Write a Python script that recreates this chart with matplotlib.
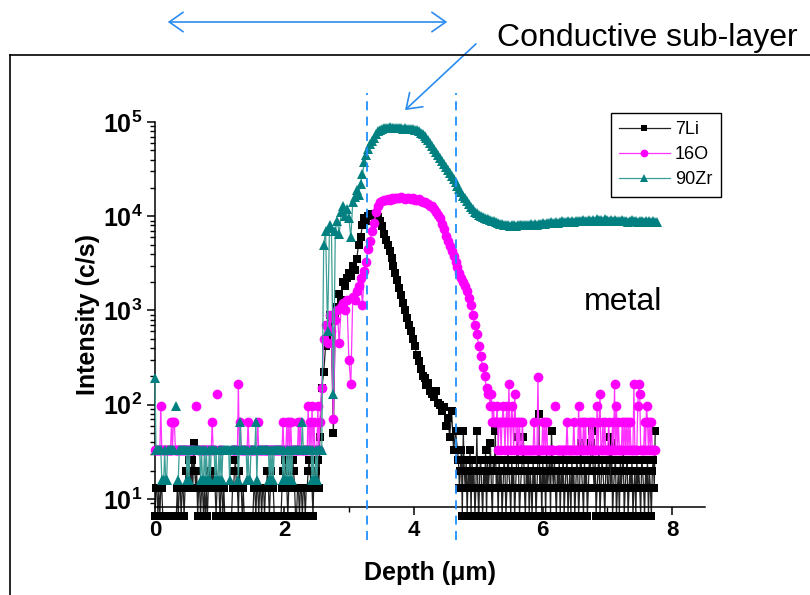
import matplotlib
matplotlib.use('Agg')
import matplotlib.pyplot as plt
import numpy as np
from matplotlib.patches import FancyArrowPatch
from matplotlib.lines import Line2D
from matplotlib.ticker import FixedLocator, FuncFormatter, LogLocator, NullFormatter

plt.rcParams['font.family'] = ['Liberation Sans', 'DejaVu Sans']
plt.rcParams['mathtext.fontset'] = 'custom'
plt.rcParams['mathtext.rm'] = 'Liberation Sans'
plt.rcParams['mathtext.bf'] = 'Liberation Sans:bold'

nan = np.nan

# ---- depth grids (um) -------------------------------------------------
FINE = 0.015     # sampling in the background (noise) regions
COARSE = 0.03    # sampling through the layer
depth_left = np.arange(171) * FINE                 # 0 .. 2.55
depth_li_mid = 2.58 + np.arange(70) * COARSE       # 2.58 .. 4.65
depth_li_right = 4.68 + np.arange(205) * FINE      # 4.68 .. 7.74
depth_o_mid = 2.58 + np.arange(87) * COARSE        # 2.58 .. 5.16
depth_o_right = 5.19 + np.arange(171) * FINE       # 5.19 .. 7.74
depth_zr_rest = 2.58 + np.arange(174) * COARSE     # 2.58 .. 7.77

# ---- 7Li intensity (c/s) ----------------------------------------------
li_left = [
    6.6, 13, 13, 6.6, 13, 6.6, 13, 13, 6.6, 6.6, 6.6, 6.6, 6.6, 6.6, 6.6, 6.6, 6.6, 6.6, 6.6, 6.6,
    6.6, 6.6, 6.6, 13, 6.6, 13, 13, 6.6, 13, 13, 6.6, 13, 20, 13, 20, 26, 20, 13, 26, 13,
    39, 20, 13, 20, 6.6, 13, 13, 6.6, 13, 13, 6.6, 13, 6.6, 13, 6.6, 13, 20, 13, 20, 13,
    20, 13, 13, 6.6, 13, 13, 13, 6.6, 13, 13, 6.6, 13, 6.6, 6.6, 6.6, 6.6, 6.6, 6.6, 6.6, 6.6,
    13, 13, 20, 26, 13, 13, 6.6, 20, 13, 13, 6.6, 13, 6.6, 6.6, 6.6, 6.6, 6.6, 6.6, 6.6, 6.6,
    6.6, 6.6, 13, 13, 6.6, 13, 13, 6.6, 13, 13, 6.6, 13, 13, 6.6, 13, 13, 20, 13, 6.6, 13,
    20, 13, 13, 6.6, 6.6, 6.6, 6.6, 6.6, 6.6, 6.6, 6.6, 13, 20, 13, 26, 13, 13, 6.6, 13, 13,
    13, 20, 26, 20, 13, 6.6, 6.6, 13, 13, 6.6, 13, 13, 6.6, 13, 13, 6.6, 13, 13, 20, 26,
    20, 13, 13, 6.6, 20, 13, 20, 13, 26, 13, 45,
]
li_mid = [
    150, 220, 420, 700, 900, 500, 50, 900, 1100, 1500,
    1300, 2000, 1800, 2200, 2500, 2300, 3000, 2700, 3500, 5000,
    6000, 8000, 9500, 9000, 10000, 10200, 10500, 10000, 10300, 9800,
    8800, 7800, 6500, 5600, 4900, 4300, 3600, 3000, 2500, 2100,
    1750, 1450, 1200, 1000, 840, 700, 600, 500, 420, 340,
    290, 240, 200, 190, 160, 170, 140, 130, 120, 140,
    105, 100, 85, 95, 60, 72, 46, 85, 33, 53,
]
li_right = [
    33, 26, 13, 20, 33, 6.6, 53, 20, 13, 26, 6.6, 20, 13, 33, 6.6, 26, 13, 20, 6.6, 13,
    53, 13, 6.6, 20, 26, 13, 6.6, 20, 13, 33, 6.6, 26, 13, 20, 39, 13, 6.6, 26, 20, 53,
    13, 20, 6.6, 26, 13, 20, 6.6, 13, 26, 20, 6.6, 13, 33, 20, 13, 6.6, 26, 13, 20, 6.6,
    13, 26, 46, 20, 6.6, 13, 20, 26, 46, 13, 6.6, 20, 13, 26, 6.6, 20, 13, 6.6, 26, 13,
    20, 6.6, 13, 26, 80, 13, 20, 6.6, 26, 13, 20, 6.6, 33, 13, 20, 26, 6.6, 53, 20, 13,
    26, 13, 6.6, 20, 13, 26, 6.6, 20, 13, 33, 6.6, 13, 20, 26, 6.6, 13, 20, 6.6, 26, 13,
    20, 6.6, 13, 26, 20, 6.6, 13, 39, 20, 13, 6.6, 26, 13, 20, 6.6, 13, 26, 20, 39, 53,
    20, 13, 26, 6.6, 13, 20, 33, 6.6, 13, 26, 20, 13, 6.6, 20, 26, 13, 13, 46, 13, 39,
    6.6, 13, 20, 26, 6.6, 13, 20, 6.6, 26, 13, 20, 33, 6.6, 13, 20, 26, 6.6, 13, 20, 13,
    26, 6.6, 13, 20, 6.6, 26, 13, 20, 13, 6.6, 26, 20, 13, 6.6, 20, 13, 26, 6.6, 20, 13,
    6.6, 20, 26, 13, 53,
]

# ---- 16O intensity (c/s) ----------------------------------------------
o_left = [
    33, 33, 33, 33, 33, 33, 98, 33, 33, 33, 33, 33, 33, 33, 33, 33, 33, 66, 33, 66,
    66, 33, 33, 33, 33, 33, 33, 33, 33, 33, 33, 33, 33, 33, 33, 33, 33, 33, 33, 33,
    33, nan, 98, nan, 33, 33, 33, 33, 33, 33, 33, 33, 33, 33, 33, 33, 33, 33, 33, 66,
    33, 33, 33, nan, 131, nan, 33, 33, 33, 33, nan, nan, nan, nan, nan, nan, nan, nan, nan, 33,
    33, 33, 33, 33, 33, 33, 164, 33, 66, 33, 33, 33, 33, 33, 33, 33, 66, 33, 33, 33,
    33, 33, 33, 33, 33, 33, 66, 33, 33, 33, 33, 33, 33, 33, 33, 33, 33, 33, 33, 33,
    33, 33, 33, 33, 33, 33, 33, 33, 33, 33, 33, 33, 66, 33, 33, 33, 66, 33, 66, 33,
    66, 33, 33, 33, 33, 33, 33, 33, 66, 33, 66, 33, 33, 33, 33, 33, 33, 33, 98, 33,
    66, 33, 98, 33, 66, 33, 33, 33, 98, 33, 66,
]
o_mid = [
    150, 500, 700, 450, 900, 600, 70, 800, 1000, 450,
    1100, 1200, 1000, 1300, 300, 166, 1400, 1300, 1600, 1800,
    2200, 1150, 2600, 3300, 4500, 5500, 7000, 8500, 11000, 13000,
    14000, 14500, 14800, 15000, 15200, 14800, 15500, 15300, 15600, 15800,
    15500, 15900, 15700, 15400, 15800, 15600, 15200, 15500, 15000, 14800,
    15100, 14500, 14300, 14000, 13800, 13500, 13000, 12800, 12000, 11000,
    10200, 9500, 8300, 7300, 6200, 5400, 4800, 4300, 3800, 3300,
    2900, 2500, 2200, 2000, 1800, 1600, 1350, 1150, 900, 700,
    560, 420, 330, 250, 200, 150, 131,
]
o_right = [
    98, 131, 66, 98, 66, 66, 66, 98, 33, 66, 66, 33, 66, 98, 66, 33, 66, 98, 33, 164,
    66, 33, 98, 66, 33, 131, 66, 33, 66, 33, 66, 33, 33, 66, 33, 33, 33, 33, 33, 33,
    33, 33, 33, 33, 33, 66, 33, 33, 33, 197, 33, 33, 33, 33, 66, 33, 66, 33, 66, 33,
    33, 33, 33, 33, 33, 33, nan, 98, nan, 33, 33, 33, 33, 33, 33, 33, 33, 33, 33, 66,
    33, 33, 33, 33, 33, 33, 66, 33, 33, 33, 33, 98, 33, 66, 33, 33, 66, 33, 66, 33,
    33, 33, 66, 33, 66, 33, 66, 33, 33, 33, 98, 33, 66, 131, 33, 33, 66, 33, 66, 33,
    33, 33, 66, 33, 33, 33, 66, 33, 164, 33, 98, 33, 66, 33, 33, 33, 66, 33, 66, 33,
    66, 33, 66, 33, 66, 33, 33, 33, 164, 33, 33, 33, 98, 164, 131, 33, 33, 33, 33, 66,
    33, 98, 66, 33, 66, 33, 66, 33, 33, 33, 33,
]

# ---- 90Zr intensity (c/s) ---------------------------------------------
zr_left = [
    190, 33, 33, 33, 33, 33, 33, 16, 16, 16, 33, 16, 16, 33, 33, 33, 33, 33, 33, 33,
    33, nan, 98, nan, 16, 33, 33, 33, 33, 33, 33, 33, 33, 16, 33, 16, 33, 33, 33, 33,
    33, 33, 33, 33, 33, 33, 33, 16, 33, 16, 16, 33, 16, 33, 16, 16, 33, 16, 33, 33,
    33, 33, 16, 33, 16, 16, 33, 16, 33, 16, 33, 33, 33, 33, 33, 33, 33, 16, 33, 33,
    33, 33, 33, 33, 33, 33, 16, 33, 66, 33, 33, 33, 33, 33, 33, 16, 33, 16, 16, 33,
    33, 33, 33, 33, 66, 16, 33, 33, 33, 33, 33, 33, 33, 33, 33, 33, 33, 33, 16, 33,
    16, 33, 16, 33, 33, 33, 33, 33, 33, 33, 33, 33, 16, 33, 16, 16, 33, 16, 33, 16,
    33, 16, 33, 33, 33, 33, 33, 33, 33, 33, 33, 33, 66, 33, 33, 33, 33, 33, 33, 33,
    33, 33, 16, 33, 16, 16, 33, 16, 33, 33, 33,
]
zr_rest = [
    33, 5000, 7000, 600,
    8000, 7500, 130, 7000, 9000, 6500, 11000, 13000, 10000, 12000,
    9500, 6000, 14000, 16000, 19000, 17000, 22000, 28000, 38000, 45000,
    52000, 58000, 63000, 68000, 74000, 80000, 83000, 85000, 86000, 87000,
    86000, 88000, 87000, 86000, 87000, 86000, 87000, 86000, 85000, 86000,
    85000, 84000, 85000, 84000, 83000, 82000, 80000, 77000, 74000, 71000,
    68000, 64000, 60000, 56000, 52000, 48000, 45000, 42000, 39000, 36000,
    33000, 31000, 29000, 27000, 25000, 23000, 21000, 19500, 18000, 16500,
    15500, 14500, 13500, 12500, 11800, 11200, 10700, 10200, 10000, 9800,
    9600, 9400, 9300, 9100, 9000, 8800, 8600, 8400, 8300, 8200,
    8100, 8000, 8100, 7900, 8000, 8100, 7900, 8000, 8000, 8100,
    8100, 8000, 8100, 8000, 8200, 8100, 8200, 8100, 8300, 8200,
    8400, 8300, 8500, 8400, 8600, 8500, 8400, 8700, 8500, 8600,
    8800, 8600, 8700, 8900, 8700, 8800, 8600, 8900, 8800, 9000,
    8800, 9100, 8900, 9000, 9200, 8900, 9100, 9000, 9300, 9100,
    9200, 9000, 9300, 9100, 8900, 9200, 9000, 9100, 8800, 9000,
    8900, 9100, 8800, 9000, 8700, 8900, 9100, 8800, 8900, 8700,
    9000, 8800, 8600, 8900, 8700, 8800, 8600, 8900, 8700, 8600,
]

labels = ['7Li', '16O', '90Zr']
x_ticks = [0, 2, 4, 6, 8]
x_minor = [1, 3, 5, 7]
y_ticks = [1e1, 1e2, 1e3, 1e4, 1e5]
boundaries = [3.28, 4.66]   # dashed guide lines (um)

d_li = np.concatenate([depth_left[:len(li_left)], depth_li_mid[:len(li_mid)],
                       depth_li_right[:len(li_right)]])
v_li = np.array(li_left + li_mid + li_right, dtype=float)
d_o = np.concatenate([depth_left[:len(o_left)], depth_o_mid[:len(o_mid)],
                      depth_o_right[:len(o_right)]])
v_o = np.array(o_left + o_mid + o_right, dtype=float)
d_zr = np.concatenate([depth_left[:len(zr_left)], depth_zr_rest[:len(zr_rest)]])
v_zr = np.array(zr_left + zr_rest, dtype=float)

W, H = 810, 595
fig = plt.figure(figsize=(W / 100, H / 100), dpi=100)
ax = fig.add_axes([155 / W, 1 - 507 / H, 550 / W, 385 / H])

ax.plot(d_li, v_li, color='#222222', lw=0.9, marker='s', ms=5.6, mfc='black',
        mec='black', mew=0, clip_on=False, label=labels[0], zorder=2)
ax.plot(d_o, v_o, color='#ff33ff', lw=0.9, marker='o', ms=7.0, mfc='#ff00ff',
        mec='#ff00ff', mew=0, clip_on=False, label=labels[1], zorder=3)
ax.plot(d_zr, v_zr, color='#3d9f98', lw=0.9, marker='^', ms=6.8, mfc='#008080',
        mec='#008080', mew=0, clip_on=False, label=labels[2], zorder=4)

ax.set_yscale('log')
ax.set_ylim(8.22, 1e5)
ax.set_xlim(0, 8.51)

for b in boundaries:
    ax.plot([b, b], [3.67, 2.05e5], color='#2090ff', lw=1.3,
            ls=(0, (5, 3.5)), clip_on=False, zorder=5)

for s in ['top', 'right']:
    ax.spines[s].set_visible(False)
for s in ['left', 'bottom']:
    ax.spines[s].set_linewidth(1.1)

ax.xaxis.set_major_locator(FixedLocator(x_ticks))
ax.xaxis.set_minor_locator(FixedLocator(x_minor))
ax.yaxis.set_major_locator(FixedLocator(y_ticks))
ax.yaxis.set_minor_locator(LogLocator(base=10, subs=np.arange(2, 10)))
ax.yaxis.set_minor_formatter(NullFormatter())
ax.yaxis.set_major_formatter(FuncFormatter(
    lambda v, p: r'$\mathbf{10^{%d}}$' % int(round(np.log10(v)))))
ax.tick_params(which='major', direction='out', length=6, width=1.1, pad=3)
ax.tick_params(which='minor', direction='out', length=3.5, width=1.0)
ax.tick_params(axis='x', which='major', labelsize=16)
ax.tick_params(axis='y', which='major', labelsize=18)
for t in ax.get_xticklabels():
    t.set_fontweight('bold')

ax.set_xlabel('Depth (μm)', fontsize=18, fontweight='bold', labelpad=15)
ax.set_ylabel('Intensity (c/s)', fontsize=18, fontweight='bold', labelpad=2)

leg = ax.legend(loc='upper left', bbox_to_anchor=(611 / W, 1 - 113 / H),
                bbox_transform=fig.transFigure, fontsize=13, frameon=True,
                fancybox=False, edgecolor='black', framealpha=1,
                borderpad=0.45, labelspacing=0.45, handlelength=2.8,
                handletextpad=0.3, borderaxespad=0, markerscale=0.8)
leg.get_frame().set_linewidth(1.0)


def fpt(x, y):
    return (x / W, 1 - y / H)


arrow_col = '#2a8cf0'
fig.patches.append(FancyArrowPatch(fpt(165, 22), fpt(450, 22),
                                   transform=fig.transFigure,
                                   arrowstyle='<->,head_length=0.5,head_width=0.35',
                                   mutation_scale=20, color=arrow_col, lw=1.2))
fig.patches.append(FancyArrowPatch(fpt(478, 42), fpt(403, 112),
                                   transform=fig.transFigure,
                                   arrowstyle='->,head_length=0.5,head_width=0.35',
                                   mutation_scale=20, color=arrow_col, lw=1.2))

fig.text(*fpt(497, 46), 'Conductive sub-layer', fontsize=23, va='baseline', ha='left')
fig.text(*fpt(584, 310), 'metal', fontsize=23, va='baseline', ha='left')

fig.add_artist(Line2D([10 / W, 1.0], [1 - 55 / H, 1 - 55 / H],
                      transform=fig.transFigure, color='black', lw=1.2))
fig.add_artist(Line2D([10 / W, 10 / W], [0, 1 - 55 / H],
                      transform=fig.transFigure, color='black', lw=1.2))

fig.savefig('out.png', dpi=100)
